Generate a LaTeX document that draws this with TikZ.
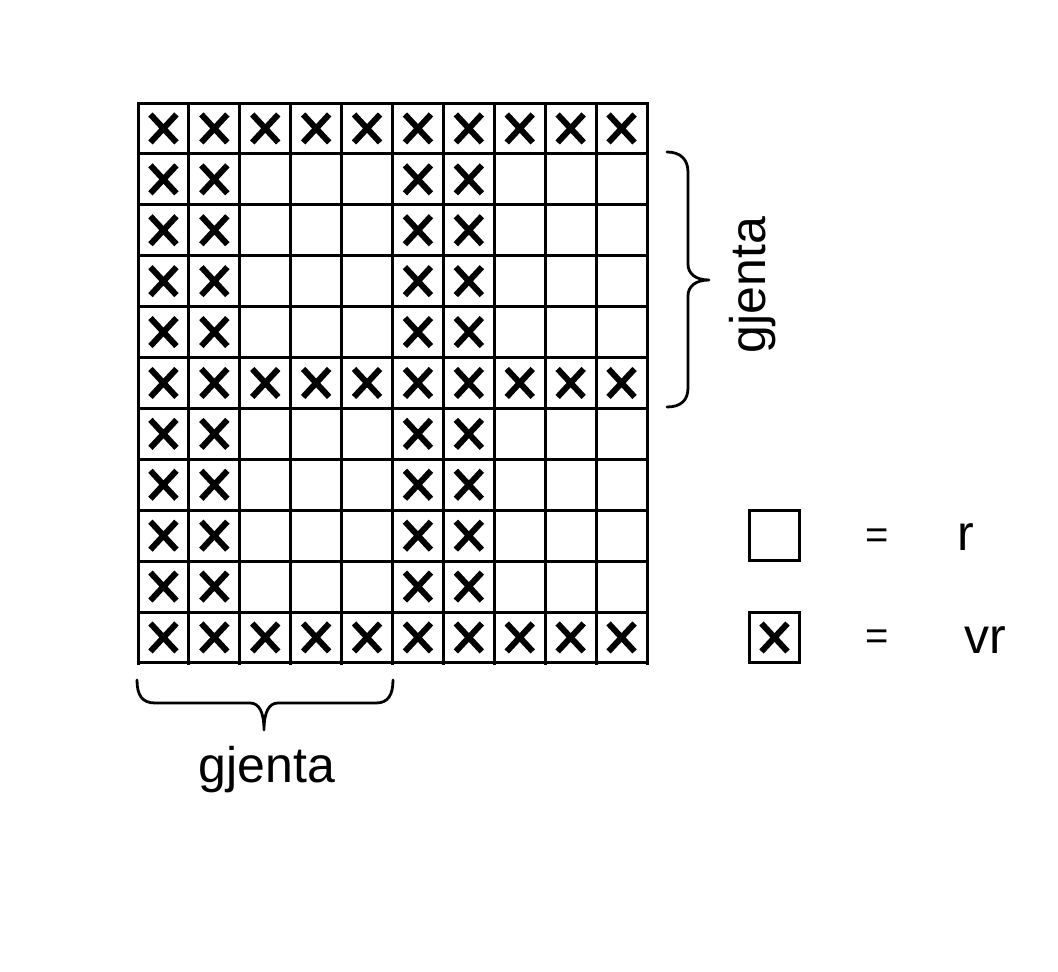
\documentclass[tikz,border=0pt]{standalone}
\usepackage{fontspec}
\setmainfont{Liberation Sans}
\begin{document}
\begin{tikzpicture}[x=1pt,y=-1pt,
  gridline/.style={line width=3pt, line cap=rect},
  xmark/.style={line width=6pt},
  bracestyle/.style={line width=2.8pt, line cap=round, line join=round},
  lbl/.style={font=\fontsize{50}{60}\selectfont, inner sep=0pt},
  eqlbl/.style={font=\fontsize{40}{48}\selectfont, inner sep=0pt},
  xpic/.pic={\draw[xmark] (-13,-14)--(13,14) (-13,14)--(13,-14);}]
\useasboundingbox[fill=white] (0,0) rectangle (1058,972);
% grid
\foreach \i in {0,...,10} \draw[gridline] ({138+\i*50.9},103) -- ({138+\i*50.9},663);
\foreach \j in {0,...,11} \draw[gridline] (138,{103+\j*50.9}) -- (647,{103+\j*50.9});
% crosses
\foreach \r in {0,5,10} \foreach \c in {0,...,9} \pic at ({163.45+\c*50.9},{128.45+\r*50.9}) {xpic};
\foreach \r in {1,2,3,4,6,7,8,9} \foreach \c in {0,1,5,6} \pic at ({163.45+\c*50.9},{128.45+\r*50.9}) {xpic};
% right brace
\draw[bracestyle] (667,152) .. controls (681,152) and (688,160) .. (688,172) -- (688,264)
  .. controls (688,274) and (696,280) .. (709,280) .. controls (696,280) and (688,286) .. (688,296)
  -- (688,388) .. controls (688,400) and (681,407) .. (667,407);
\node[lbl, rotate=90] (gr) at (753,285) {gjenta};
% bottom brace
\draw[bracestyle] (137,680) .. controls (137,695) and (142,703) .. (155,703) -- (250,703)
  .. controls (259,703) and (264,712) .. (264,730) .. controls (264,712) and (269,703) .. (278,703)
  -- (376,703) .. controls (388,703) and (393,695) .. (393,680);
\node[lbl] (gb) at (267,770) {gjenta};
% legend
\node[draw, line width=3pt, minimum size=50pt, inner sep=0pt] (lr) at (774.5,535) {};
\node[draw, line width=3pt, minimum size=50pt, inner sep=0pt] (lvr) at (774.5,637.5) {};
\pic at (lvr.center) {xpic};
\node[eqlbl] (eq1) at (877,539) {=};
\node[eqlbl] (eq2) at (877,640) {=};
\node[lbl] (tr) at (966,537) {r};
\node[lbl] (tvr) at (985,640) {vr};
\end{tikzpicture}
\end{document}
